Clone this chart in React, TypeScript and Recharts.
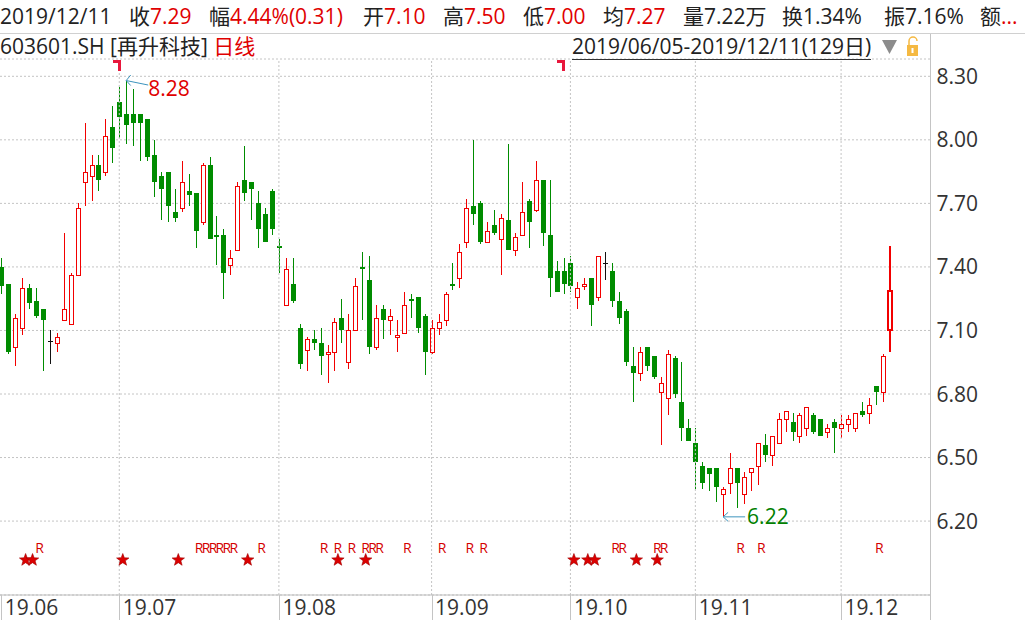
import React from 'react'
import {
  ComposedChart, Bar, Scatter, XAxis, YAxis, CartesianGrid, ReferenceLine,
} from 'recharts'

// 再升科技 603601.SH daily candles, 2019/06/05 - 2019/12/11 (129 trading days)
const opens = [
  7.40, 7.32, 7.02, 7.11, 7.30, 7.24, 7.20, 7.05, 7.04, 7.15, 7.13, 7.36, 7.80, 7.83, 7.88, 7.85, 8.06,
  8.18, 8.12, 8.12, 8.12, 8.10, 7.93, 7.83, 7.85, 7.66, 7.68, 7.76, 7.75, 7.61, 7.88, 7.55, 7.55, 7.41, 7.48, 7.81, 7.80, 7.70, 7.65, 7.76,
  7.50, 7.22, 7.32, 7.11, 7.01, 7.06, 7.04, 6.99, 7.00, 7.16, 6.95, 7.10, 7.40, 7.34, 7.02, 7.20, 7.15, 7.07, 7.09, 7.25, 7.26, 7.17,
  7.00, 7.11, 7.15, 7.32, 7.35, 7.52, 7.69, 7.70, 7.52, 7.60, 7.53, 7.62, 7.48, 7.55, 7.71, 7.67, 7.81, 7.55, 7.38, 7.38,
  7.42, 7.26, 7.31, 7.35, 7.26, 7.42, 7.38, 7.24, 7.19, 6.93, 6.90, 7.02, 6.98, 6.81, 6.78, 6.97, 6.76, 6.64,
  6.57, 6.46, 6.45, 6.45, 6.33, 6.38, 6.45, 6.33, 6.43, 6.46, 6.56, 6.51, 6.57, 6.68, 6.67, 6.60, 6.64, 6.70, 6.68, 6.62, 6.67,
  6.64, 6.66, 6.64, 6.72, 6.71, 6.84, 6.81, 7.10,
]
const highs = [
  7.44, 7.32, 7.18, 7.35, 7.32, 7.30, 7.20, 7.10, 7.09, 7.56, 7.37, 7.70, 8.08, 7.93, 7.93, 8.10, 8.16,
  8.25, 8.28, 8.24, 8.12, 8.10, 8.00, 7.85, 7.85, 7.77, 7.90, 7.84, 7.75, 7.89, 7.92, 7.64, 7.58, 7.48, 7.80, 7.97, 7.80, 7.76, 7.68, 7.77,
  7.53, 7.44, 7.44, 7.13, 7.07, 7.10, 7.11, 7.03, 7.16, 7.25, 7.18, 7.35, 7.47, 7.45, 7.22, 7.22, 7.20, 7.15, 7.28, 7.27, 7.26, 7.18,
  7.15, 7.18, 7.28, 7.42, 7.51, 7.72, 8.00, 7.71, 7.61, 7.67, 7.65, 7.98, 7.56, 7.80, 7.72, 7.90, 7.81, 7.81, 7.43, 7.44,
  7.45, 7.33, 7.35, 7.35, 7.45, 7.47, 7.42, 7.28, 7.20, 7.02, 7.02, 7.02, 6.98, 6.88, 7.01, 6.98, 6.95, 6.68,
  6.64, 6.48, 6.45, 6.45, 6.36, 6.52, 6.45, 6.43, 6.45, 6.57, 6.61, 6.60, 6.71, 6.72, 6.71, 6.71, 6.74, 6.71, 6.68, 6.66, 6.68,
  6.70, 6.70, 6.71, 6.76, 6.78, 6.84, 6.99, 7.50,
]
const lows = [
  7.27, 6.99, 6.93, 7.08, 7.20, 7.16, 6.91, 6.94, 7.00, 7.15, 7.13, 7.36, 7.69, 7.71, 7.76, 7.83, 7.89,
  8.01, 7.98, 7.97, 7.90, 7.90, 7.73, 7.62, 7.61, 7.61, 7.66, 7.69, 7.49, 7.60, 7.53, 7.41, 7.25, 7.36, 7.48, 7.71, 7.62, 7.49, 7.52, 7.55,
  7.37, 7.22, 7.23, 6.92, 6.91, 7.01, 6.89, 6.85, 6.91, 7.04, 6.92, 7.10, 7.15, 6.99, 7.01, 7.06, 7.08, 7.00, 7.09, 7.16, 7.09, 6.89,
  6.99, 7.08, 7.12, 7.29, 7.30, 7.49, 7.60, 7.51, 7.52, 7.55, 7.36, 7.48, 7.45, 7.55, 7.49, 7.66, 7.50, 7.26, 7.28, 7.27,
  7.28, 7.20, 7.29, 7.12, 7.24, 7.34, 7.21, 7.13, 6.93, 6.76, 6.86, 6.91, 6.87, 6.56, 6.70, 6.78, 6.58, 6.58,
  6.35, 6.35, 6.34, 6.29, 6.22, 6.33, 6.26, 6.28, 6.34, 6.37, 6.48, 6.46, 6.57, 6.62, 6.58, 6.57, 6.60, 6.61, 6.60, 6.59, 6.52,
  6.59, 6.62, 6.62, 6.69, 6.66, 6.75, 6.76, 7.00,
]
const closes = [
  7.31, 7.00, 7.16, 7.30, 7.23, 7.17, 7.15, 7.05, 7.07, 7.20, 7.36, 7.68, 7.85, 7.88, 7.81, 8.02, 7.96,
  8.11, 8.07, 8.08, 8.08, 7.92, 7.80, 7.77, 7.69, 7.63, 7.80, 7.74, 7.57, 7.88, 7.53, 7.54, 7.37, 7.44, 7.78, 7.75, 7.77, 7.58, 7.52, 7.58,
  7.49, 7.39, 7.24, 6.94, 7.06, 7.04, 6.98, 7.00, 7.14, 7.10, 7.10, 7.31, 7.39, 7.02, 7.16, 7.15, 7.17, 7.08, 7.22, 7.24, 7.11, 7.00,
  7.11, 7.14, 7.27, 7.31, 7.47, 7.68, 7.65, 7.52, 7.57, 7.56, 7.63, 7.48, 7.54, 7.66, 7.61, 7.81, 7.56, 7.35, 7.28, 7.32,
  7.31, 7.30, 7.32, 7.22, 7.45, 7.42, 7.24, 7.16, 6.95, 6.90, 7.00, 6.93, 6.88, 6.85, 6.99, 6.80, 6.64, 6.58,
  6.48, 6.38, 6.42, 6.36, 6.35, 6.45, 6.38, 6.41, 6.45, 6.57, 6.51, 6.60, 6.68, 6.72, 6.62, 6.70, 6.74, 6.62, 6.60, 6.64, 6.64,
  6.66, 6.68, 6.71, 6.70, 6.75, 6.81, 6.98, 7.29,
]

// first trading day of each month and its axis label
const monthStarts = [0, 17, 40, 62, 82, 100, 121]
const monthLabels = ['19.06', '19.07', '19.08', '19.09', '19.10', '19.11', '19.12']
const priceTicks = [6.2, 6.5, 6.8, 7.1, 7.4, 7.7, 8.0, 8.3]

// signal markers under the candles
const starDays = [3, 4, 17, 25, 35, 48, 52, 82, 84, 85, 91, 94]
const rDays = [5, 28, 29, 30, 31, 32, 33, 37, 46, 48, 50, 52, 53, 54, 58, 63, 67, 69, 88, 89, 94, 95, 106, 109, 126]
const flagDays = [17, 81]

// period high / low annotations
const extremeDays = [18, 104]
const extremePrices = [8.28, 6.22]

// header quote line
const quoteLabels = ['收', '幅', '开', '高', '低', '均', '量', '换', '振', '额']
const quoteValues = ['7.29', '4.44%(0.31)', '7.10', '7.50', '7.00', '7.27', '7.22万', '1.34%', '7.16%', '...']
const quoteUp = [true, true, true, true, true, true, false, false, false, true]

const UP = '#f20000'
const DOWN = '#008c00'
const TEXT_RED = '#e00000'
const GRID = '#c4c4c4'
const ARROW = '#3d94bd'
const FONT = '"Open Sans", "Noto Sans CJK SC", sans-serif'
const FS = 21

const candles = opens.map((o, i) => ({
  i, open: o, high: highs[i], low: lows[i], close: closes[i], range: [lows[i], highs[i]],
}))
const stars = starDays.map(d => ({ i: d, y: 6 }))
const rMarks = rDays.map(d => ({ i: d, y: 6 }))
const flags = flagDays.map(d => ({ i: d, y: 8.3 }))
const extremes = extremeDays.map((d, k) => ({ i: d, y: extremePrices[k], k }))

function Candle(props: any) {
  const { x, y, width, height, payload } = props
  const { open, close, high, low, i } = payload
  const span = high - low
  const toY = (p: number) => Math.round(span > 0 ? y + ((high - p) / span) * height : y)
  const cx = Math.round(x + width / 2)
  const last = i === opens.length - 1
  const lw = last ? 2 : 1
  const left = last ? cx - 3 : cx - 2
  const w = last ? 6 : 5
  const wx = last ? cx : cx + 0.5
  const yH = toY(high), yL = toY(low), yO = toY(open), yC = toY(close)
  const top = Math.min(yO, yC), bot = Math.max(yO, yC)

  if (close === open) {
    return (
      <g>
        <line x1={wx} x2={wx} y1={yH} y2={yL} stroke="#111" />
        <line x1={left} x2={left + w} y1={top + 0.5} y2={top + 0.5} stroke="#111" />
      </g>
    )
  }
  if (close > open) {
    return (
      <g>
        <line x1={wx} x2={wx} y1={yH} y2={top} stroke={UP} strokeWidth={lw} />
        <line x1={wx} x2={wx} y1={bot} y2={yL} stroke={UP} strokeWidth={lw} />
        <rect x={left + lw / 2} y={top + lw / 2} width={w - lw} height={Math.max(0, bot - top - lw + 1)}
          fill="#fff" stroke={UP} strokeWidth={lw} />
      </g>
    )
  }
  return (
    <g>
      <line x1={wx} x2={wx} y1={yH} y2={yL} stroke={DOWN} />
      <rect x={left} y={top} width={w} height={Math.max(1, bot - top)} fill={DOWN} />
    </g>
  )
}

function Star(props: any) {
  const cx = props.cx + 3.5
  const cy = 560
  const pts: string[] = []
  for (let k = 0; k < 10; k++) {
    const r = k % 2 === 0 ? 6.5 : 2.7
    const a = -Math.PI / 2 + (k * Math.PI) / 5
    pts.push(`${(cx + r * Math.cos(a)).toFixed(2)},${(cy + r * Math.sin(a)).toFixed(2)}`)
  }
  return <polygon points={pts.join(' ')} fill="#dc0000" stroke="#a00000" strokeWidth={0.6} />
}

function RMark(props: any) {
  return (
    <text x={props.cx + 3.5} y={553} textAnchor="middle" fontSize={14} fill="#d40000" fontFamily={FONT}>R</text>
  )
}

function Flag(props: any) {
  const cx = Math.round(props.cx)
  return <path d={`M${cx - 6} 60 H${cx + 2} V71 H${cx - 1} V63 H${cx - 6} Z`} fill="#e8173c" />
}

function Extreme(props: any) {
  const { cx, cy, payload } = props
  if (payload.k === 0) {
    return (
      <g>
        <line x1={cx} y1={cy} x2={cx + 22} y2={cy + 4.5} stroke={ARROW} />
        <polyline points={`${cx + 4.5},${cy - 5.5} ${cx},${cy} ${cx + 4.5},${cy + 5}`} fill="none" stroke={ARROW} />
        <text x={cx + 22} y={cy + 15} fontSize={FS} fill={TEXT_RED} fontFamily={FONT}>{payload.y.toFixed(2)}</text>
      </g>
    )
  }
  return (
    <g>
      <line x1={cx} y1={cy} x2={cx + 22} y2={cy} stroke={ARROW} />
      <polyline points={`${cx + 5},${cy - 4.5} ${cx},${cy} ${cx + 5},${cy + 4.5}`} fill="none" stroke={ARROW} />
      <text x={cx + 24} y={cy + 7.5} fontSize={FS} fill="#008000" fontFamily={FONT}>{payload.y.toFixed(2)}</text>
    </g>
  )
}

function MonthTick(props: any) {
  const { x, payload } = props
  const k = monthStarts.indexOf(payload.value)
  const lx = Math.round(x) + 0.5
  return (
    <g>
      <line x1={lx} x2={lx} y1={595} y2={620} stroke={GRID} />
      <text x={x + 3.5} y={615} fontSize={FS} fill="#333" fontFamily={FONT}>{monthLabels[k]}</text>
    </g>
  )
}

function PriceTick(props: any) {
  const { x, y, payload } = props
  return (
    <text x={x} y={y} dy="0.36em" fontSize={FS} fill="#333" fontFamily={FONT}>{payload.value.toFixed(2)}</text>
  )
}

const quoteX = [129, 209, 363, 443, 523, 603, 683, 782, 884, 980]

export default function App() {
  return (
    <div style={{
      position: 'absolute', left: 0, top: 0, width: 1025, height: 620,
      background: '#fff', overflow: 'hidden', fontFamily: FONT, color: '#222',
    }}>
      <ComposedChart
        width={1025}
        height={620}
        data={candles}
        margin={{ top: 59, right: 0, bottom: 0, left: 0 }}
        style={{ position: 'absolute', left: 0, top: 0 }}
      >
        <CartesianGrid vertical={false} stroke={GRID} strokeDasharray="2 2" />
        {monthStarts.slice(1).map(d => (
          <ReferenceLine key={d} x={d} stroke={GRID} strokeDasharray="2 2" />
        ))}
        <XAxis
          dataKey="i"
          type="number"
          domain={[-0.184, 133.88]}
          allowDataOverflow
          ticks={monthStarts}
          interval={0}
          height={25}
          axisLine={{ stroke: '#bdbdbd' }}
          tickLine={false}
          tick={<MonthTick />}
        />
        <YAxis
          orientation="right"
          domain={[5.851, 8.3817]}
          allowDataOverflow
          ticks={priceTicks}
          interval={0}
          width={94.5}
          axisLine={false}
          tickLine={false}
          tickSize={4}
          tickMargin={2}
          tick={<PriceTick />}
        />
        <Bar dataKey="range" barSize={5} shape={<Candle />} isAnimationActive={false} />
        <Scatter data={stars} dataKey="y" shape={<Star />} isAnimationActive={false} />
        <Scatter data={rMarks} dataKey="y" shape={<RMark />} isAnimationActive={false} />
        <Scatter data={flags} dataKey="y" shape={<Flag />} isAnimationActive={false} />
        <Scatter data={extremes} dataKey="y" shape={<Extreme />} isAnimationActive={false} />
      </ComposedChart>

      {/* right axis rule, runs through header to the bottom */}
      <div style={{ position: 'absolute', left: 930, top: 33, width: 1, height: 587, background: '#c4c4c4' }} />
      <div style={{ position: 'absolute', left: 0, top: 33, width: 1025, height: 1, background: '#d0d0d0' }} />

      {/* quote line */}
      <div style={{ position: 'absolute', left: 0, top: 2, fontSize: FS, lineHeight: '28px', whiteSpace: 'nowrap' }}>2019/12/11</div>
      {quoteLabels.map((lab, k) => (
        <div key={lab} style={{ position: 'absolute', left: quoteX[k], top: 2, fontSize: FS, lineHeight: '28px', whiteSpace: 'nowrap' }}>
          {lab}<span style={{ color: quoteUp[k] ? TEXT_RED : '#222' }}>{quoteValues[k]}</span>
        </div>
      ))}

      {/* title line */}
      <div style={{ position: 'absolute', left: 0, top: 33, fontSize: FS, lineHeight: '26px', whiteSpace: 'nowrap' }}>
        603601.SH [再升科技] <span style={{ color: TEXT_RED }}>日线</span>
      </div>
      <div style={{
        position: 'absolute', left: 572, top: 33, fontSize: FS, lineHeight: '26px', whiteSpace: 'nowrap',
        borderBottom: '1px solid #333',
      }}>2019/06/05-2019/12/11(129日)</div>
      <svg style={{ position: 'absolute', left: 880, top: 36 }} width={45} height={24}>
        <polygon points="2,4 17,4 9.5,18" fill="#8c8c8c" />
        <rect x={27} y={9} width={11} height={11} fill="#f5b942" />
        <path d="M29 9 V5 A4 4 0 0 1 37 5" fill="none" stroke="#f5b942" strokeWidth={1.5} />
        <rect x={31.5} y={12} width={2} height={5} fill="#fff" />
      </svg>
    </div>
  )
}
